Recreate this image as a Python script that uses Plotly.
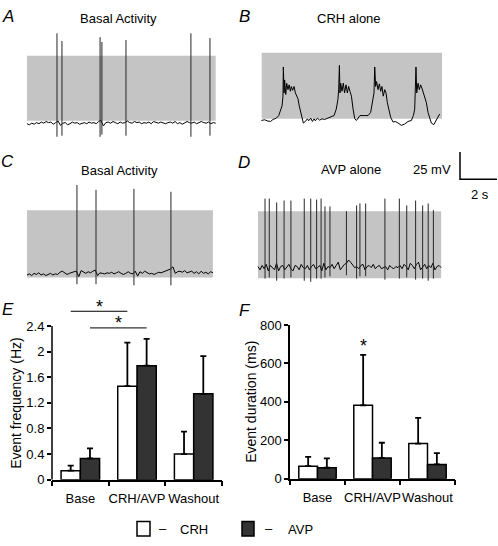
import numpy as np
import plotly.graph_objects as go

W, H = 498, 546
FONT = "Liberation Sans, Arial, sans-serif"

# ---------------- data: membrane potential traces ----------------
REST = -60.0          # mV, resting level of the traces
SCALE_MV = 25         # scale bar
SCALE_S = 2

# A: basal activity (CRH neuron) - baseline deviation (mV), spikes
A_dur = 10.2
A_noise = [0, -1, 0.5, -0.5, 1, 0, 1.5, 0.5, 2, 1,
           1.5, -0.5, 1, 2.5, -1.5, 0.5, 1, -1, 0, 1.5,
           0.5, 1, -0.5, 0.5, 1, 0, 1.5, 0.5, 1, 0,
           2, 3, -2, 1, 1.5, 0.5, 2, 1, 0, 1.5,
           0.5, 1, 2.5, 1, 0.5, 2, 1, 1.5, 0, 1,
           0.5, 1.5, 0, 2, 1, 0.5, 1.5, 1, 0, 1,
           1.5, 0.5, 2, 0, 1, -0.5, 0.5, 2, 1, 0.5,
           1.5, 0, 1, 2, 1, 0.5, 1.5, 0, 1, 0.5]
A_spike_t = [1.62, 1.89, 3.95, 4.05, 5.35, 8.86, 9.89]
A_spike_peak = [23.0, 15.9, 19.5, 15.0, 16.8, 23.0, 18.6]
A_spike_trough = [-72, -71, -72, -70, -71, -72, -71]
A_band = [-57.3, 2.5]

# B: CRH alone - burst trace
B_t = [0.18, 0.36, 0.54, 0.68, 0.81, 0.99, 1.12, 1.23, 1.30, 1.35,
       1.37, 1.41, 1.44, 1.50, 1.55, 1.62, 1.68, 1.75, 1.80, 1.87,
       1.95, 2.02, 2.09, 2.16, 2.23, 2.31, 2.38, 2.45, 2.56, 2.67,
       2.74, 2.85, 2.94, 3.03, 3.10, 3.21, 3.33, 3.46, 3.60, 3.78,
       3.96, 4.11, 4.23, 4.32, 4.36, 4.40, 4.43, 4.47, 4.54, 4.61,
       4.68, 4.76, 4.83, 4.90, 4.97, 5.05, 5.14, 5.23, 5.32, 5.41,
       5.51, 5.77, 5.95, 6.09, 6.20, 6.27, 6.31, 6.36, 6.41, 6.49,
       6.56, 6.63, 6.70, 6.77, 6.85, 6.92, 6.99, 7.06, 7.17, 7.30,
       7.42, 7.57, 7.75, 7.93, 8.11, 8.29, 8.40, 8.47, 8.50, 8.54,
       8.58, 8.65, 8.72, 8.79, 8.86, 8.94, 9.01, 9.10, 9.19, 9.28,
       9.37, 9.50, 9.64, 9.73, 9.82]
B_mv = [-59.7, -59.1, -60.3, -60.6, -58.8, -57.6, -55.2, -50.8, -46.3, -37.4,
        -10.6, -34.4, -22.5, -35.9, -25.5, -31.4, -27.0, -32.9, -28.5, -32.0,
        -28.5, -34.4, -37.4, -39.8, -46.3, -52.3, -59.7, -62.1, -60.6, -58.2,
        -60.0, -57.6, -60.6, -58.2, -60.0, -57.6, -59.4, -58.2, -58.8, -57.6,
        -56.7, -55.2, -49.3, -40.4, -31.4, -9.1, -34.4, -25.5, -32.9, -25.5,
        -34.4, -27.0, -34.4, -28.5, -32.9, -37.4, -49.3, -58.2, -59.7, -57.0,
        -55.2, -55.2, -55.2, -52.3, -41.8, -34.4, -10.6, -28.5, -24.0, -31.4,
        -26.1, -32.9, -28.5, -37.4, -31.4, -34.4, -43.3, -49.3, -56.7, -61.2,
        -60.6, -62.1, -64.2, -63.0, -60.6, -59.7, -55.2, -49.3, -37.4, -10.6,
        -34.4, -25.5, -31.4, -27.0, -30.0, -34.4, -38.9, -43.3, -52.3, -58.2,
        -62.1, -63.6, -59.7, -56.7, -53.8]
B_band_t = [0.2, 9.95]
B_band = [-58.2, 2.5]

# C: basal activity (AVP neuron)
C_dur = 10.05
C_noise = [-0.5, 0.5, -1, 1, 0, 1.5, -0.5, 0.5, -1, 0, 1,
           -0.5, 0.5, 0, 2, 3, 1.5, 0, 1, 2, 2.5,
           3, -2, 3.5, 2, 1, 2.5, 1.5, 3,
           4, -1, 1.5, 1, 0.5, 1.5, 1, 2, 0.5, 1.5, 2.5, 1,
           0, 1, 2.5, 1, 0.5, 3,
           -1.5, 2.5, 1, 3, 1.5, 0.5, 1, 0, 1, 2, 1.5, 2.5,
           3, 4, 5, 7,
           1, 2.5, 3, 2, 3.5, 1.5, 2, 3, 1, 2.5, 0.5, 3, 1, 2, 0.5, 2.5, 1.5]
C_spike_t = [2.70, 3.73, 5.78, 7.78]
C_spike_peak = [22.1, 17.7, 18.6, 15.9]
C_spike_trough = [-69, -69, -70, -70]
C_band = [-62.7, -1.1]

# D: AVP alone
D_dur = 9.9
D_noise = [1, -2, 2, -1, 3, -3, 2, 0, -2, 4,
           -3, 1, 2, -2, 0, 3, -1, -3, 2, 1,
           -2, 3, 0, -1, 2, -2, 1, 3, -1, 0,
           2, -3, 4, -2, 1, 0, 3, -1, 2, 5,
           -2, 1, 3, 4, 7, 5, 2, 0, 1, -1,
           2, 3, -2, 1, 2, 0, 3, -1, 1, 2,
           -1, 0, 1, -2, 2, 0, -1, 1, 0, 2,
           -1, 3, 1, -2, 4, 2, -1, 3, 5, -2,
           1, 3, -1, 2, 0, 4, -2, 1, 2, 0]
D_spike_t = [0.38, 0.61, 1.01, 1.41, 1.78, 2.50, 2.85, 3.17, 3.41, 3.62, 3.89,
             4.78, 5.33, 5.51, 5.82, 6.86, 7.64, 8.04, 8.52, 8.90, 9.20, 9.48]
D_spike_peak = [3.4, 3.4, -0.2, 1.6, 1.6, 3.4, 3.4, 2.5, 3.4, -3.8, -3.8,
                -8.2, -2.9, -1.1, -1.1, 3.4, 3.4, -2.9, 1.6, -2.9, -1.1, -7.3]
D_spike_trough = [-70, -69, -72, -70, -69, -72, -73, -70, -70, -69, -68,
                  -67, -70, -68, -68, -71, -70, -69, -71, -70, -72, -70]
D_band = [-69.8, -8.2]

# ---------------- data: bar charts ----------------
categories = ["Base", "CRH/AVP", "Washout"]
series_names = ["CRH", "AVP"]
E_crh = [0.14, 1.46, 0.40]
E_crh_err = [0.08, 0.68, 0.35]
E_avp = [0.33, 1.78, 1.34]
E_avp_err = [0.16, 0.42, 0.59]
E_ticks = [0, 0.4, 0.8, 1.2, 1.6, 2, 2.4]
E_ticktext = ["0", "0.4", "0.8", "1.2", "1.6", "2", "2.4"]
F_crh = [65, 382, 183]
F_crh_err = [48, 263, 134]
F_avp = [57, 108, 74]
F_avp_err = [49, 79, 59]
F_ticks = [0, 200, 400, 600, 800]

# ---------------- layout helpers ----------------
PX_PER_S = 18.5
PX_PER_MV = 28 / 25
BARGAP = 0.32
OFF = (1 - BARGAP) / 4   # bar centre offset within a category


def trace_axes(box, t0_px, rest_px):
    x0, x1, y0, y1 = box
    xa = dict(domain=[x0 / W, x1 / W],
              range=[(x0 - t0_px) / PX_PER_S, (x1 - t0_px) / PX_PER_S],
              visible=False, fixedrange=True)
    ya = dict(domain=[1 - y1 / H, 1 - y0 / H],
              range=[REST + (rest_px - y1) / PX_PER_MV, REST + (rest_px - y0) / PX_PER_MV],
              visible=False, fixedrange=True)
    return xa, ya


def spikes(ts, peaks, troughs):
    xs, ys = [], []
    for t, p, tr in zip(ts, peaks, troughs):
        xs += [t, t, None]
        ys += [tr, p, None]
    return xs, ys


fig = go.Figure()
shapes = []
annotations = []

trace_line = dict(color="black", width=1)
spike_line = dict(color="#262626", width=1)

panels = [
    ("1", np.linspace(0, A_dur, len(A_noise)), REST + np.array(A_noise),
     (A_spike_t, A_spike_peak, A_spike_trough), [0, A_dur], A_band),
    ("2", np.array(B_t), np.array(B_mv), None, B_band_t, B_band),
    ("3", np.linspace(0, C_dur, len(C_noise)), REST + np.array(C_noise),
     (C_spike_t, C_spike_peak, C_spike_trough), [0, C_dur], C_band),
    ("4", np.linspace(0, D_dur, len(D_noise)), REST + np.array(D_noise),
     (D_spike_t, D_spike_peak, D_spike_trough), [0, D_dur], D_band),
]
for ax, tx, vy, sp, band_t, band in panels:
    xr = "x" if ax == "1" else "x" + ax
    yr = "y" if ax == "1" else "y" + ax
    shapes.append(dict(type="rect", xref=xr, yref=yr, x0=band_t[0], x1=band_t[1],
                       y0=band[0], y1=band[1], fillcolor="#c4c4c4",
                       line=dict(width=0), layer="below"))
    fig.add_trace(go.Scatter(x=tx, y=vy, mode="lines", line=trace_line,
                             xaxis=xr, yaxis=yr, hoverinfo="skip"))
    if sp is not None:
        sx, sy = spikes(*sp)
        fig.add_trace(go.Scatter(x=sx, y=sy, mode="lines", line=spike_line,
                                 xaxis=xr, yaxis=yr, hoverinfo="skip"))

# scale bar in panel D
sb_t = (460 - 258) / PX_PER_S
sb_v = REST + (268 - 177) / PX_PER_MV
fig.add_trace(go.Scatter(x=[sb_t, sb_t, sb_t + SCALE_S],
                         y=[sb_v + SCALE_MV, sb_v, sb_v],
                         mode="lines", line=dict(color="black", width=1.5),
                         xaxis="x4", yaxis="y4", hoverinfo="skip"))

# bars
bar_specs = [
    ("x5", "y5", E_crh, E_crh_err, E_avp, E_avp_err),
    ("x6", "y6", F_crh, F_crh_err, F_avp, F_avp_err),
]
for xr, yr, c, ce, a, ae in bar_specs:
    for vals, errs, col, nm in [(c, ce, "white", series_names[0]), (a, ae, "#333333", series_names[1])]:
        fig.add_trace(go.Bar(
            x=categories, y=vals, name=nm, xaxis=xr, yaxis=yr,
            marker=dict(color=col, line=dict(color="black", width=1.5)),
            error_y=dict(type="data", array=errs, arrayminus=[0] * len(errs),
                         symmetric=False, color="black", thickness=1.8, width=3),
            hoverinfo="skip"))

tickfont = dict(family=FONT, size=13, color="black")

xa1, ya1 = trace_axes((20, 225, 20, 140), 27, 120)
xa2, ya2 = trace_axes((255, 450, 40, 130), 258, 117)
xa3, ya3 = trace_axes((20, 225, 175, 295), 27, 275)
xa4, ya4 = trace_axes((250, 498, 140, 292), 258, 268)

E_top_px = 300
E_ymax = 2.4 * (486 - E_top_px) / (486 - 328)

cat_x = dict(type="category", range=[-0.5, 2.5], showline=True, linecolor="black",
             linewidth=1.5, ticks="outside", tickson="boundaries", ticklen=5,
             tickwidth=1.5, tickcolor="black", tickfont=tickfont, fixedrange=True,
             showgrid=False, zeroline=False, tickangle=0, ticklabelstandoff=6)

layout = dict(
    width=W, height=H, autosize=False,
    margin=dict(l=0, r=0, t=0, b=0),
    paper_bgcolor="white", plot_bgcolor="white",
    showlegend=False, barmode="group", bargap=BARGAP, bargroupgap=0,
    font=dict(family=FONT, size=13, color="black"),
    xaxis=dict(xa1, anchor="y"), yaxis=dict(ya1, anchor="x"),
    xaxis2=dict(xa2, anchor="y2"), yaxis2=dict(ya2, anchor="x2"),
    xaxis3=dict(xa3, anchor="y3"), yaxis3=dict(ya3, anchor="x3"),
    xaxis4=dict(xa4, anchor="y4"), yaxis4=dict(ya4, anchor="x4"),
    xaxis5=dict(cat_x, domain=[52 / W, 222 / W], anchor="y5"),
    yaxis5=dict(domain=[1 - 486 / H, 1 - E_top_px / H], range=[0, E_ymax], anchor="x5",
                tickvals=E_ticks, ticktext=E_ticktext, ticks="outside", ticklen=4,
                tickwidth=1.5, tickcolor="black", showline=False, showgrid=False,
                zeroline=False, tickfont=tickfont, fixedrange=True),
    xaxis6=dict(cat_x, domain=[290 / W, 455 / W], anchor="y6"),
    yaxis6=dict(domain=[1 - 485 / H, 1 - 327 / H], range=[0, 800], anchor="x6",
                tickvals=F_ticks, ticks="outside", ticklen=4, tickwidth=1.5,
                tickcolor="black", showline=True, linecolor="black", linewidth=1.5,
                showgrid=False, zeroline=False, tickfont=tickfont, fixedrange=True),
)

# E y-axis line (only up to 2.4)
shapes.append(dict(type="line", xref="x5 domain", yref="y5", x0=0, x1=0,
                   y0=0, y1=E_ticks[-1], line=dict(color="black", width=1.5)))
# significance lines in E
sig_pairs = [(0 - OFF, 1 - OFF, 2.63, 2.70), (0 + OFF, 1 + OFF, 2.37, 2.44)]
for xa_, xb_, yl, ys in sig_pairs:
    shapes.append(dict(type="line", xref="x5", yref="y5", x0=xa_, x1=xb_, y0=yl, y1=yl,
                       line=dict(color="black", width=1)))
    annotations.append(dict(xref="x5", yref="y5", x=(xa_ + xb_) / 2, y=ys, text="*",
                            showarrow=False, font=dict(size=18), yanchor="middle"))
# star in F
annotations.append(dict(xref="x6", yref="y6", x=1 - OFF, y=690, text="*",
                        showarrow=False, font=dict(size=18), yanchor="middle"))


def ann(x, y, text, size=13, **kw):
    d = dict(xref="paper", yref="paper", x=x / W, y=1 - y / H, text=text,
             showarrow=False, font=dict(size=size), xanchor="center", yanchor="middle")
    d.update(kw)
    annotations.append(d)


# panel letters
for lx, ly, lt in [(8, 10, "A"), (244, 10, "B"), (8, 159, "C"), (244, 160, "D"),
                   (8, 311, "E"), (245, 312, "F")]:
    ann(lx, ly, "<i>" + lt + "</i>", size=17)

ann(118, 12, "Basal Activity")
ann(349, 12, "CRH alone")
ann(119, 168, "Basal Activity")
ann(351, 167, "AVP alone")
ann(432, 167, "25 mV")
ann(480, 193, "2 s")

ann(16, 407, "Event frequency (Hz)", size=14, textangle=-90)
ann(251, 406, "Event duration (ms)", size=14, textangle=-90)

# legend
legend_items = [(137, 150, "white", 163, 194, series_names[0]),
                (242, 254, "#333333", 269, 300, series_names[1])]
for bx0, bx1, col, dx, tx, nm in legend_items:
    shapes.append(dict(type="rect", xref="paper", yref="paper", x0=bx0 / W, x1=bx1 / W,
                       y0=1 - 544 / H, y1=1 - 529 / H, fillcolor=col,
                       line=dict(color="black", width=1.5)))
    ann(dx, 536, "–")
    ann(tx, 537, nm)

layout["shapes"] = shapes
layout["annotations"] = annotations
fig.update_layout(**layout)

fig.write_html("out.html", config={"displayModeBar": False},
               post_script="document.body.style.margin='0';document.body.style.padding='0';")
